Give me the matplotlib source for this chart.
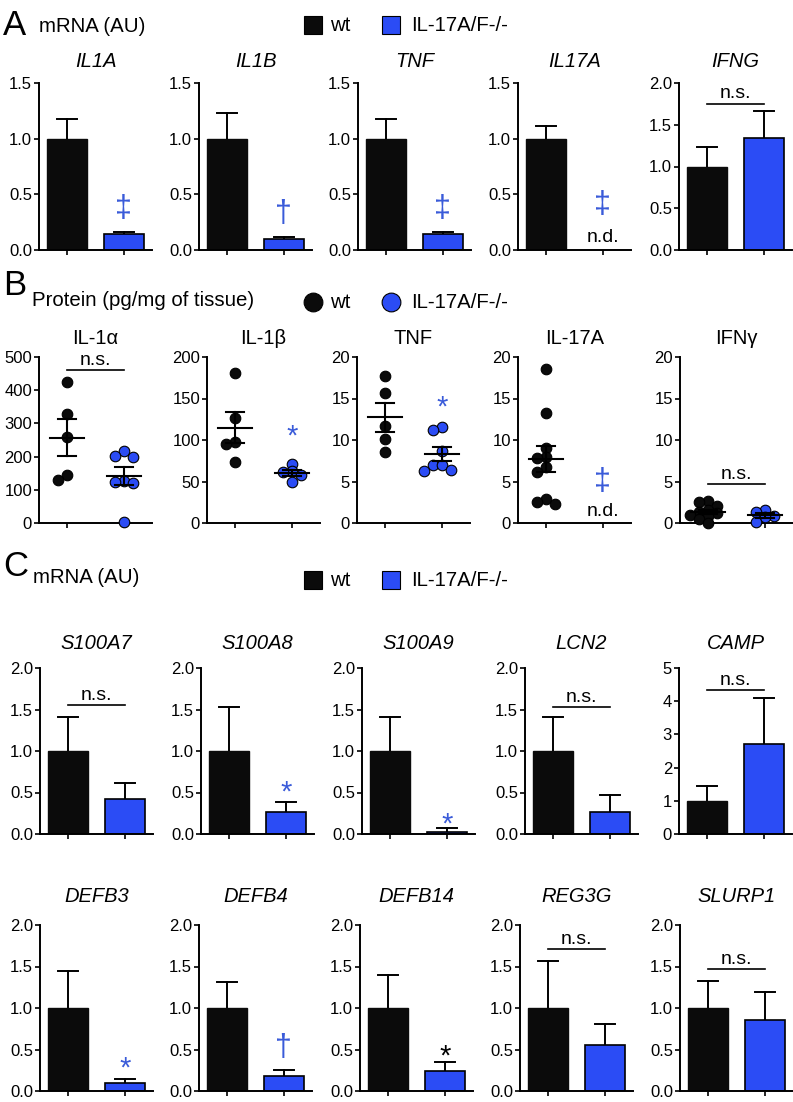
import numpy as np
import matplotlib.pyplot as plt
from matplotlib.patches import Rectangle
from matplotlib.lines import Line2D
from matplotlib.ticker import FormatStrFormatter

plt.rcParams['font.family'] = ['Liberation Sans', 'DejaVu Sans']

W, H = 793, 1102
BLUE = '#2b4cf5'
MBLUE = '#3a5bd9'

# ---- panel A: mRNA (AU), mean + SEM
a_genes = ['IL1A', 'IL1B', 'TNF', 'IL17A', 'IFNG']
a_wt = [1.0, 1.0, 1.0, 1.0, 1.0]
a_wt_err = [0.18, 0.23, 0.18, 0.11, 0.23]
a_ko = [0.14, 0.10, 0.14, np.nan, 1.34]       # IL17A not detected
a_ko_err = [0.02, 0.02, 0.02, np.nan, 0.32]
a_ymax = [1.5, 1.5, 1.5, 1.5, 2.0]
a_mark = ['‡', '†', '‡', '‡', 'n.s.']
a_mark_y = [0.37, 0.32, 0.37, 0.40, 1.75]

# ---- panel B: protein (pg/mg of tissue), individual mice
b_names = ['IL-1α', 'IL-1β', 'TNF', 'IL-17A', 'IFNγ']
b_wt = [[425, 328, 258, 146, 130],
        [181, 126, 98, 95, 74],
        [17.7, 15.7, 11.7, 10.1, 8.5],
        [18.5, 13.3, 9.0, 7.9, 7.8, 6.7, 6.2, 2.9, 2.5, 2.3],
        [2.6, 2.5, 2.0, 1.6, 1.3, 1.2, 1.0, 0.8, 0.5, 0.0]]
b_ko = [[217, 202, 200, 128, 122, 120, 3],
        [71, 63, 61, 58, 50],
        [11.6, 11.2, 8.7, 7.0, 7.0, 6.4, 6.3],
        [],                                     # not detected
        [1.6, 1.3, 0.9, 0.7, 0.1]]
b_ymax = [500, 200, 20, 20, 20]
b_step = [100, 50, 5, 5, 5]
b_mark = ['n.s.', '*', '*', '‡', 'n.s.']
b_mark_y = [460, 113, 14.8, 5.0, 4.7]

# ---- panel C: mRNA (AU), mean + SEM
c_genes = ['S100A7', 'S100A8', 'S100A9', 'LCN2', 'CAMP',
           'DEFB3', 'DEFB4', 'DEFB14', 'REG3G', 'SLURP1']
c_wt = [1.0] * 10
c_wt_err = [0.41, 0.53, 0.41, 0.41, 0.45, 0.44, 0.31, 0.40, 0.57, 0.33]
c_ko = [0.42, 0.27, 0.03, 0.26, 2.72, 0.10, 0.18, 0.24, 0.56, 0.86]
c_ko_err = [0.19, 0.11, 0.04, 0.21, 1.38, 0.04, 0.07, 0.11, 0.25, 0.33]
c_ymax = [2, 2, 2, 2, 5, 2, 2, 2, 2, 2]
c_step = [0.5, 0.5, 0.5, 0.5, 1, 0.5, 0.5, 0.5, 0.5, 0.5]
c_mark = ['n.s.', '*', '*', 'n.s.', 'n.s.', '*', '†', '*', 'n.s.', 'n.s.']
c_mark_y = [1.55, 0.58, 0.20, 1.53, 4.33, 0.35, 0.52, 0.50, 1.71, 1.47]
c_mark_blue = [False, True, True, False, False, True, True, False, False, False]

fig = plt.figure(figsize=(W / 100, H / 100), dpi=100)


def fx(x):
    return x / W


def fy(y):
    return 1 - y / H


def add_ax(left, top, bottom, width=113):
    return fig.add_axes([fx(left), fy(bottom), width / W, (bottom - top) / H])


def style(ax, ymax, step, fmt):
    ax.set_xlim(-0.5, 1.5)
    ax.set_ylim(0, ymax)
    ax.set_yticks(np.arange(0, ymax + step / 2, step))
    ax.yaxis.set_major_formatter(FormatStrFormatter(fmt))
    ax.set_xticks([0, 1])
    ax.set_xticklabels([])
    for s in ['top', 'right']:
        ax.spines[s].set_visible(False)
    for s in ['left', 'bottom']:
        ax.spines[s].set_linewidth(1.4)
    ax.tick_params(width=1.2, length=3.5, labelsize=12, pad=1.5)


def sig(ax, mark, y, color):
    if mark == 'n.s.':
        ax.plot([0, 1], [y, y], color='black', lw=1.2, clip_on=False)
        ax.annotate('n.s.', (0.5, y), xytext=(0, 1), textcoords='offset points',
                    ha='center', va='bottom', fontsize=14)
    elif mark == '*':
        ax.annotate('*', (1, y), xytext=(0, -5), textcoords='offset points',
                    ha='center', va='center', fontsize=21, color=color)
    else:
        ax.text(1, y, mark, ha='center', va='center', fontsize=22, color=color)


def bar_panel(ax, wt, wt_err, ko, ko_err):
    ax.bar(0, wt, 0.7, color='#0b0b0b', edgecolor='#0b0b0b', lw=1.0, zorder=2)
    ax.plot([0, 0], [wt, wt + wt_err], color='black', lw=1.4, zorder=1)
    ax.plot([-0.18, 0.18], [wt + wt_err] * 2, color='black', lw=1.4)
    if not np.isnan(ko):
        ax.bar(1, ko, 0.7, color=BLUE, edgecolor='black', lw=1.2, zorder=2)
        ax.plot([1, 1], [ko, ko + ko_err], color='black', lw=1.4, zorder=1)
        ax.plot([0.82, 1.18], [ko + ko_err] * 2, color='black', lw=1.4)


def swarm(vals, ymax, height=166, diam=10, step=9, ppu_x=56.5):
    # simple beeswarm: shift a point sideways only if it overlaps a placed one
    ppu = height / ymax
    xs = np.zeros(len(vals))
    placed = []
    for i in np.argsort(vals)[::-1]:
        y = vals[i] * ppu
        for k in [0, -1, 1, -2, 2, -3, 3]:
            dx = k * step
            if all(np.hypot(dx - px, y - py) >= diam * 0.6 for px, py in placed):
                break
        placed.append((dx, y))
        xs[i] = dx / ppu_x
    return xs


def dot_panel(ax, vals, x, ymax, face):
    if len(vals) == 0:
        return
    vals = np.array(vals, float)
    xs = x + swarm(vals, ymax)
    ax.scatter(xs, vals, s=58, color=face, edgecolor='black', lw=0.8,
               zorder=3, clip_on=False)
    m = vals.mean()
    se = vals.std(ddof=1) / np.sqrt(len(vals))
    ax.plot([x - 0.3, x + 0.3], [m, m], color='black', lw=1.5, zorder=4)
    ax.plot([x, x], [m - se, m + se], color='black', lw=1.5, zorder=4)
    for v in (m - se, m + se):
        ax.plot([x - 0.16, x + 0.16], [v, v], color='black', lw=1.5, zorder=4)


def title(left, base, text, italic=True):
    fig.text(fx(left + 56.5), fy(base), text, ha='center', va='baseline',
             fontsize=14.5, style='italic' if italic else 'normal')


# ---- headers and legends
def header(letter, ly, label, lab_x, lab_y, leg_y, circle=False):
    fig.text(fx(3), fy(ly), letter, fontsize=25, va='baseline')
    fig.text(fx(lab_x), fy(lab_y), label, fontsize=14.7, va='baseline')
    for x0, col in [(304, '#0b0b0b'), (382, BLUE)]:
        if circle:
            fig.add_artist(Line2D([fx(x0 + 9)], [fy(leg_y)], marker='o', markersize=13.5,
                                  color=col, markeredgecolor='black',
                                  markeredgewidth=0.8, transform=fig.transFigure))
        else:
            fig.add_artist(Rectangle((fx(x0), fy(leg_y + 9)), 18 / W, 18 / H,
                                     facecolor=col, edgecolor='black', lw=0.8,
                                     transform=fig.transFigure))
    fig.text(fx(330), fy(leg_y + 6), 'wt', fontsize=14.7, va='baseline')
    fig.text(fx(411), fy(leg_y + 6), 'IL-17A/F-/-', fontsize=14.7, va='baseline')


header('A', 35, 'mRNA (AU)', 39, 32, 25)
header('B', 295, 'Protein (pg/mg of tissue)', 32, 306, 302, circle=True)
header('C', 576, 'mRNA (AU)', 33, 583, 580)

# ---- row A
a_left = [39, 199, 358, 518, 679]
for i in range(5):
    ax = add_ax(a_left[i], 83, 250)
    style(ax, a_ymax[i], 0.5, '%.1f')
    bar_panel(ax, a_wt[i], a_wt_err[i], a_ko[i], a_ko_err[i])
    sig(ax, a_mark[i], a_mark_y[i], MBLUE)
    if np.isnan(a_ko[i]):
        ax.text(1, 0.11, 'n.d.', ha='center', va='center', fontsize=14)
    title(a_left[i], 67, a_genes[i])

# ---- row B
b_left = [39, 207, 357, 518, 680]
for i in range(5):
    ax = add_ax(b_left[i], 357, 523)
    style(ax, b_ymax[i], b_step[i], '%d')
    dot_panel(ax, b_wt[i], 0, b_ymax[i], '#0b0b0b')
    dot_panel(ax, b_ko[i], 1, b_ymax[i], BLUE)
    sig(ax, b_mark[i], b_mark_y[i], MBLUE)
    if len(b_ko[i]) == 0:
        ax.text(1, 1.4, 'n.d.', ha='center', va='center', fontsize=14)
    title(b_left[i], 344, b_names[i], italic=False)

# ---- row C (two lines of five)
c_left = [[40, 201, 362, 525, 679], [40, 199, 360, 520, 680]]
c_top = [668, 925]
c_base = [649, 902]
for i in range(10):
    r, c = divmod(i, 5)
    ax = add_ax(c_left[r][c], c_top[r], c_top[r] + 166)
    style(ax, c_ymax[i], c_step[i], '%.1f' if c_step[i] < 1 else '%d')
    bar_panel(ax, c_wt[i], c_wt_err[i], c_ko[i], c_ko_err[i])
    sig(ax, c_mark[i], c_mark_y[i], MBLUE if c_mark_blue[i] else 'black')
    title(c_left[r][c], c_base[r], c_genes[i])

fig.savefig('out.png', dpi=100)
